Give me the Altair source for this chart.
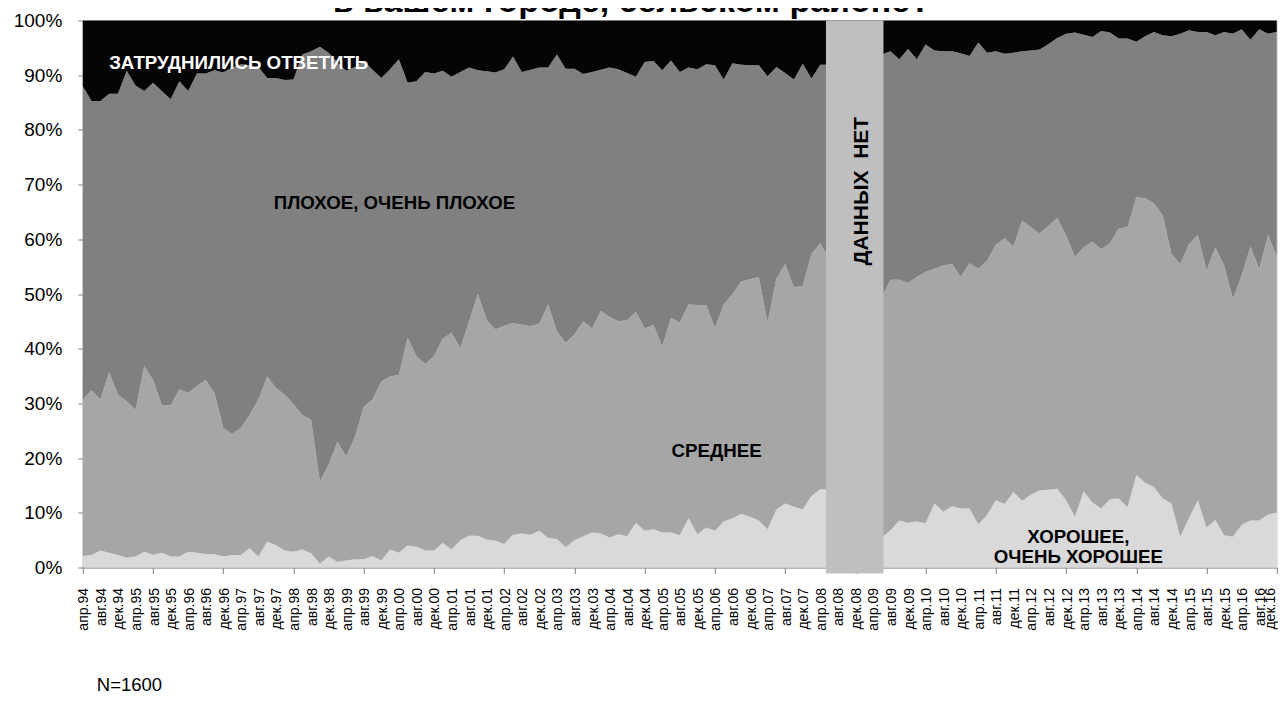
import pandas as pd
import altair as alt

# ---------------- data ----------------
# survey positions, in months since April 1994 (one survey every ~2 months)
months_before_gap = list(range(0, 171, 2))
months_after_gap = list(range(182, 273, 2))

# cumulative shares, % : "good", "good + medium", "good + medium + bad"
good_before = [
    2.1, 2.3, 3.1, 2.7, 2.3, 1.8, 2.0, 2.9, 2.3, 2.7,
    2.0, 2.0, 2.9, 2.7, 2.4, 2.4, 2.0, 2.3, 2.3, 3.5,
    2.0, 4.7, 4.1, 3.1, 2.9, 3.3, 2.6, 0.7, 2.0, 1.0,
    1.3, 1.5, 1.5, 2.1, 1.3, 3.3, 2.7, 4.0, 3.8, 3.1,
    3.1, 4.5, 3.3, 5.0, 5.8, 5.8, 5.1, 4.9, 4.3, 6.0,
    6.2, 6.0, 6.7, 5.4, 5.2, 3.7, 5.0, 5.7, 6.4, 6.2,
    5.5, 6.1, 5.7, 8.2, 6.7, 7.0, 6.4, 6.4, 5.9, 9.0,
    6.1, 7.3, 6.7, 8.4, 9.0, 9.8, 9.3, 8.6, 7.0, 10.6,
    11.7, 11.1, 10.6, 13.1, 14.3, 14.2,
]
good_medium_before = [
    30.7, 32.4, 30.7, 35.7, 31.6, 30.4, 28.8, 36.8, 34.3, 29.7,
    29.6, 32.6, 31.9, 33.2, 34.3, 31.9, 25.5, 24.4, 25.5, 27.9,
    30.7, 34.9, 32.8, 31.6, 29.9, 27.9, 27.0, 15.7, 18.8, 23.0,
    20.3, 23.9, 29.4, 30.7, 34.0, 34.9, 35.2, 42.0, 38.6, 37.2,
    38.6, 41.8, 42.9, 40.1, 45.0, 50.0, 45.3, 43.5, 44.2, 44.7,
    44.4, 44.1, 44.6, 48.1, 43.2, 41.1, 42.6, 45.0, 43.7, 46.9,
    45.8, 45.0, 45.2, 46.7, 43.7, 44.4, 40.4, 45.6, 44.8, 48.1,
    48.0, 48.0, 43.8, 48.1, 50.0, 52.3, 52.7, 53.1, 44.7, 52.8,
    55.5, 51.2, 51.5, 57.3, 59.3, 56.5,
]
answered_before = [
    88.0, 85.3, 85.3, 86.6, 86.6, 90.8, 88.1, 87.1, 88.6, 87.1,
    85.6, 88.9, 87.1, 90.3, 90.3, 90.9, 90.5, 91.4, 92.0, 91.8,
    91.5, 89.5, 89.5, 89.1, 89.2, 93.8, 94.4, 95.2, 94.1, 92.3,
    90.8, 91.5, 92.6, 91.0, 89.5, 91.1, 92.9, 88.6, 88.9, 90.6,
    90.3, 90.8, 89.7, 90.6, 91.4, 90.9, 90.7, 90.5, 91.1, 93.4,
    90.6, 91.0, 91.4, 91.4, 93.8, 91.2, 91.2, 90.2, 90.6, 91.0,
    91.4, 91.1, 90.4, 89.7, 92.4, 92.6, 90.9, 92.7, 90.6, 91.4,
    91.1, 92.0, 91.8, 89.2, 92.2, 91.9, 91.8, 91.8, 89.8, 91.5,
    90.4, 89.2, 92.1, 89.4, 91.9, 91.9,
]
good_after = [
    5.5, 6.8, 8.6, 8.2, 8.4, 8.1, 11.7, 10.2, 11.2, 10.8,
    10.8, 7.9, 9.6, 12.3, 11.6, 13.8, 12.2, 13.3, 14.1, 14.2,
    14.4, 12.3, 9.3, 13.9, 11.9, 10.8, 12.5, 12.6, 11.0, 16.9,
    15.5, 14.7, 12.6, 11.7, 5.6, 9.0, 12.3, 7.3, 8.7, 5.9,
    5.6, 7.8, 8.6, 8.6, 9.7, 10.0,
]
good_medium_after = [
    49.4, 52.6, 52.6, 52.0, 53.1, 54.0, 54.6, 55.2, 55.5, 53.1,
    55.6, 54.6, 56.1, 59.0, 60.2, 58.7, 63.4, 62.2, 61.0, 62.5,
    63.9, 60.7, 56.8, 58.5, 59.6, 58.2, 59.3, 62.0, 62.2, 67.7,
    67.5, 66.6, 64.4, 57.3, 55.5, 59.1, 60.8, 54.3, 58.5, 55.2,
    49.1, 53.4, 58.7, 54.5, 60.8, 56.9,
]
answered_after = [
    93.8, 94.4, 92.9, 94.8, 92.9, 95.6, 94.5, 94.4, 94.4, 94.0,
    93.5, 96.0, 94.1, 94.4, 93.9, 94.1, 94.4, 94.5, 94.7, 95.7,
    96.8, 97.6, 97.8, 97.4, 97.0, 98.1, 97.8, 96.7, 96.7, 96.1,
    97.1, 97.9, 97.3, 97.1, 97.6, 98.2, 97.9, 97.9, 97.3, 97.9,
    97.6, 98.4, 96.5, 98.4, 97.6, 97.9,
]

series_names = ["ХОРОШЕЕ, ОЧЕНЬ ХОРОШЕЕ", "СРЕДНЕЕ", "ПЛОХОЕ, ОЧЕНЬ ПЛОХОЕ", "ЗАТРУДНИЛИСЬ ОТВЕТИТЬ"]
series_colors = ["#d9d9d9", "#a6a6a6", "#808080", "#050505"]

month_names = ["апр", "авг", "дек"]
label_years = [94, 95, 96, 97, 98, 99, 0, 1, 2, 3, 4, 5, 6, 7, 8, 9, 10, 11, 12, 13, 14, 15, 16]
x_labels = [f"{m}.{y:02d}" for y in label_years for m in month_names]
x_label_months = list(range(0, 273, 4))

no_data_text = "ДАННЫХ\u00a0\u00a0НЕТ"
gap_start, gap_end = 169.3, 182.4
title_text = "в вашем городе, сельском районе?"
note_text = "N=1600"

# ---------------- table ----------------
months = months_before_gap + months_after_gap
g = good_before + good_after
gm = good_medium_before + good_medium_after
ans = answered_before + answered_after
rows = []
for i, m in enumerate(months):
    shares = [g[i], gm[i] - g[i], ans[i] - gm[i], 100 - ans[i]]
    for k, (name, val) in enumerate(zip(series_names, shares)):
        rows.append({"month": m, "series": name, "rank": k, "share": round(val, 2)})
df = pd.DataFrame(rows)

FONT = "Liberation Sans"
PW, PH = 1194, 547

x_scale = alt.Scale(domain=[0, 272], nice=False, zero=False)
y_scale = alt.Scale(domain=[0, 100], nice=False)

x_axis = alt.Axis(
    values=x_label_months, labels=False,
    tickSize=6, tickColor="#808080", domainColor="#808080", grid=False, zindex=0,
)
y_axis = alt.Axis(
    values=list(range(0, 101, 10)),
    labelExpr="datum.value + '%'",
    labelFont=FONT, labelFontSize=19, labelColor="#000000", labelPadding=16,
    tickSize=5, tickColor="#808080", domainColor="#808080", grid=False, zindex=0,
)

areas = alt.Chart(df).mark_area(interpolate="linear").encode(
    x=alt.X("month:Q", scale=x_scale, axis=x_axis, title=None),
    y=alt.Y("share:Q", stack="zero", scale=y_scale, axis=y_axis, title=None),
    color=alt.Color("series:N", scale=alt.Scale(domain=series_names, range=series_colors), legend=None),
    order=alt.Order("rank:Q", sort="ascending"),
)

band_df = pd.DataFrame({"start": [gap_start], "end": [gap_end], "top": [100.0], "bottom": [-1.1]})
band = alt.Chart(band_df).mark_rect(color="#bfbfbf", clip=False).encode(
    x=alt.X("start:Q", scale=x_scale, title=None),
    x2="end:Q",
    y=alt.Y("top:Q", scale=y_scale, title=None),
    y2="bottom:Q",
)

# x tick labels, rotated, under the axis (the last one nudged left to stay on the page)
xl_df = pd.DataFrame({"month": x_label_months, "label": x_labels})

def tick_label_layer(frame, shift):
    return alt.Chart(frame).mark_text(
        font=FONT, fontSize=14, color="#000000", angle=270, align="right", baseline="middle", dy=shift
    ).encode(
        x=alt.X("month:Q", scale=x_scale, title=None),
        y=alt.value(PH + 20.5),
        text="label:N",
    )

x_tick_labels = tick_label_layer(xl_df.iloc[:-1], 1.5)
x_last_label = tick_label_layer(xl_df.iloc[-1:], -5.5)

ann = pd.DataFrame([
    {"text": "ЗАТРУДНИЛИСЬ ОТВЕТИТЬ", "mx": 6.0, "py": 91.2, "kind": "white_left"},
    {"text": "ПЛОХОЕ, ОЧЕНЬ ПЛОХОЕ", "mx": 71.0, "py": 65.5, "kind": "black"},
    {"text": "СРЕДНЕЕ", "mx": 144.4, "py": 20.25, "kind": "black"},
    {"text": "ХОРОШЕЕ,", "mx": 226.8, "py": 4.4, "kind": "black"},
    {"text": "ОЧЕНЬ ХОРОШЕЕ", "mx": 226.8, "py": 0.75, "kind": "black"},
])

def ann_layer(kind, color, align):
    return alt.Chart(ann[ann.kind == kind]).mark_text(
        font=FONT, fontSize=18.7, fontWeight="bold", color=color, align=align, baseline="alphabetic"
    ).encode(
        x=alt.X("mx:Q", scale=x_scale, title=None),
        y=alt.Y("py:Q", scale=y_scale, title=None),
        text="text:N",
    )

white_txt = ann_layer("white_left", "#ffffff", "left")
black_txt = ann_layer("black", "#000000", "center")

nodata = alt.Chart(pd.DataFrame({"text": [no_data_text], "mx": [177.6], "py": [68.8]})).mark_text(
    font=FONT, fontSize=21, fontWeight="bold", color="#000000", angle=270, align="center", baseline="middle"
).encode(
    x=alt.X("mx:Q", scale=x_scale, title=None),
    y=alt.Y("py:Q", scale=y_scale, title=None),
    text="text:N",
)

title = alt.Chart(pd.DataFrame({"text": [title_text]})).mark_text(
    font=FONT, fontSize=34, fontWeight="bold", color="#000000", align="center", baseline="alphabetic"
).encode(x=alt.value(549), y=alt.value(-9), text="text:N")

note = alt.Chart(pd.DataFrame({"text": [note_text]})).mark_text(
    font=FONT, fontSize=18.5, color="#000000", align="left", baseline="alphabetic"
).encode(x=alt.value(14), y=alt.value(670), text="text:N")

chart = alt.layer(
    areas, band, x_tick_labels, x_last_label, white_txt, black_txt, nodata, title, note
).properties(
    width=PW, height=PH,
    autosize=alt.AutoSizeParams(type="none"),
    padding={"left": 74.8, "top": 12.5, "right": 1.2, "bottom": 128},
).configure_view(stroke="#808080", strokeWidth=1).configure(background="#ffffff")

chart.save("out.html", embed_options={"renderer": "svg", "actions": False})
